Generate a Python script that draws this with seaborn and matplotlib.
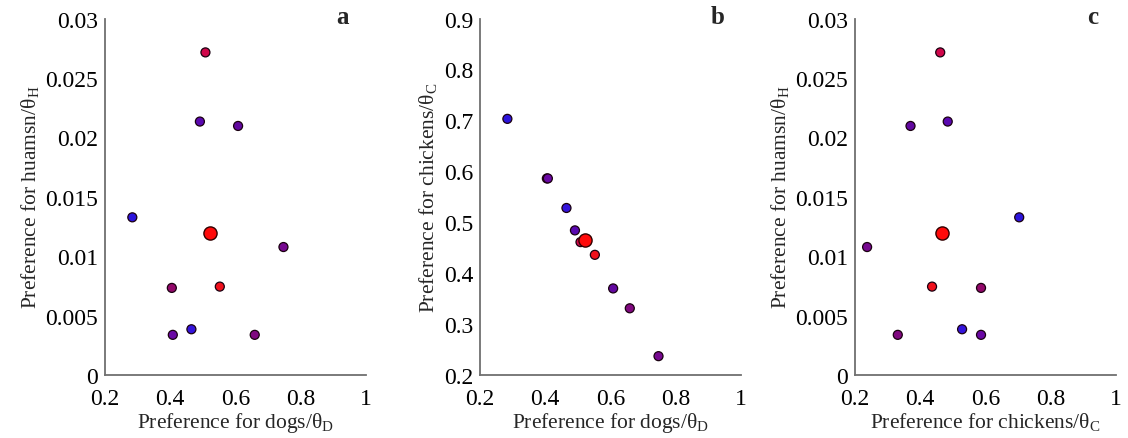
import matplotlib
matplotlib.use("Agg")
import matplotlib.pyplot as plt
import seaborn as sns
import pandas as pd
from matplotlib.ticker import FuncFormatter

# ---- data (one entry per parameter set) ----
point_id = ["p1", "p2", "p3", "p4", "p5", "p6", "p7", "p8", "p9", "p10", "p11"]
theta_D = [0.508, 0.491, 0.608, 0.284, 0.522, 0.747, 0.405, 0.552, 0.408, 0.465, 0.659]
theta_C = [0.461, 0.484, 0.370, 0.703, 0.465, 0.237, 0.586, 0.436, 0.586, 0.528, 0.331]
theta_H = [0.02715, 0.02133, 0.02096, 0.01327, 0.01195, 0.01077,
           0.00733, 0.00744, 0.00338, 0.00385, 0.00338]
point_colors = ["#d0064a", "#5a08b0", "#6208a0", "#2c14dc", "#ff0a0a", "#760890",
                "#92086a", "#f0101c", "#6a08a4", "#3414dc", "#800880"]
is_best = [False, False, False, False, True, False, False, False, False, False, False]

df = pd.DataFrame({"id": point_id, "D": theta_D, "C": theta_C, "H": theta_H,
                   "best": is_best})
palette = dict(zip(point_id, point_colors))

sns.set_style("white")
plt.rcParams["font.family"] = ["Liberation Serif", "DejaVu Serif"]
plt.rcParams["mathtext.fontset"] = "custom"
plt.rcParams["mathtext.rm"] = "Liberation Serif"
plt.rcParams["mathtext.it"] = "Liberation Serif:italic"

fig = plt.figure(figsize=(11.28, 4.39), dpi=100)
lefts = [0.093, 0.4255, 0.758]
width = 0.2315
bottom = 0.1435
height = 0.812

panels = [
    ("D", "H", "Preference for dogs/θ$_\\mathrm{D}$", "Preference for huamsn/θ$_\\mathrm{H}$",
     (0, 0.03), [0, 0.005, 0.01, 0.015, 0.02, 0.025, 0.03], "a"),
    ("D", "C", "Preference for dogs/θ$_\\mathrm{D}$", "Preference for chickens/θ$_\\mathrm{C}$",
     (0.2, 0.9), [0.2, 0.3, 0.4, 0.5, 0.6, 0.7, 0.8, 0.9], "b"),
    ("C", "H", "Preference for chickens/θ$_\\mathrm{C}$", "Preference for huamsn/θ$_\\mathrm{H}$",
     (0, 0.03), [0, 0.005, 0.01, 0.015, 0.02, 0.025, 0.03], "c"),
]

fmt = FuncFormatter(lambda v, p: ("%g" % round(v, 6)))

for left, (xc, yc, xl, yl, ylim, yt, tag) in zip(lefts, panels):
    ax = fig.add_axes([left, bottom, width, height])
    small = df[~df["best"]]
    big = df[df["best"]]
    sns.scatterplot(data=small, x=xc, y=yc, hue="id", palette=palette, s=42,
                    edgecolor="#1a0010", linewidth=0.9, legend=False, ax=ax, zorder=3)
    sns.scatterplot(data=big, x=xc, y=yc, hue="id", palette=palette, s=90,
                    edgecolor="#300000", linewidth=1.0, legend=False, ax=ax, zorder=4)
    ax.set_xlim(0.2, 1.0)
    ax.set_ylim(*ylim)
    ax.set_xticks([0.2, 0.4, 0.6, 0.8, 1.0])
    ax.set_yticks(yt)
    ax.xaxis.set_major_formatter(fmt)
    ax.yaxis.set_major_formatter(fmt)
    ax.set_xlabel(xl, fontsize=15.5, labelpad=1)
    ax.set_ylabel(yl, fontsize=15.5, labelpad=3)
    ax.tick_params(axis="both", direction="in", length=4, width=1, labelsize=17,
                   colors="black")
    ax.tick_params(axis="x", pad=9)
    ax.tick_params(axis="y", pad=5)
    for sp in ["top", "right"]:
        ax.spines[sp].set_visible(False)
    for sp in ["left", "bottom"]:
        ax.spines[sp].set_color("#707070")
        ax.spines[sp].set_linewidth(1.3)
    ax.text(0.91, 1.005, tag, transform=ax.transAxes, fontsize=18,
            fontweight="bold", ha="center", va="center")
    ax.set_facecolor("white")

fig.savefig("out.png", dpi=100, facecolor="white")
